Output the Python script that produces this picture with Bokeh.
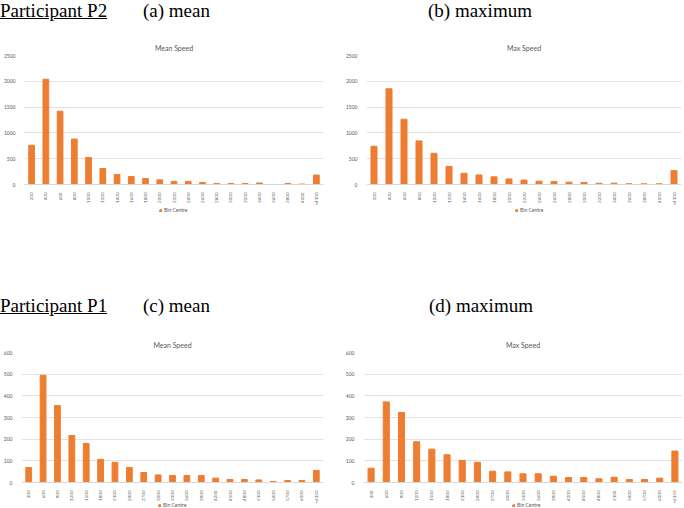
from bokeh.plotting import figure
from bokeh.models import FactorRange, FixedTicker, Legend, LegendItem, Div, Range1d
from bokeh.layouts import column, row
from bokeh.embed import file_html
from bokeh.resources import INLINE
import math

# ---------------- data ----------------
labels_p2 = ["200", "400", "600", "800", "1000", "1200", "1400", "1600", "1800", "2000",
             "2200", "2400", "2600", "2800", "3000", "3200", "3400", "3600", "3800", "4000", ">4100"]
labels_p1 = ["300", "600", "900", "1200", "1500", "1800", "2100", "2400", "2700", "3000",
             "3300", "3600", "3900", "4200", "4500", "4800", "5100", "5400", "5700", "6000", ">6150"]

p2_mean = [760, 2040, 1420, 880, 525, 310, 195, 155, 115, 90, 60, 60, 40, 20, 20, 20, 30, 0, 20, 8, 182]
p2_max = [740, 1855, 1265, 845, 605, 350, 218, 185, 148, 108, 85, 65, 58, 45, 38, 25, 25, 14, 13, 13, 268]
p1_mean = [69, 495, 355, 217, 180, 107, 93, 69, 46, 35, 32, 32, 32, 20, 14, 14, 12, 5, 9, 9, 56]
p1_max = [66, 372, 323, 188, 154, 128, 102, 93, 52, 49, 40, 40, 29, 23, 23, 17, 24, 14, 14, 20, 145]

ticks_p2 = [0, 500, 1000, 1500, 2000, 2500]
ticks_p1 = [0, 100, 200, 300, 400, 500, 600]

series_name = "Bin Centre"
BAR = "#ED7D31"
GRID = "#D9D9D9"
TXT = "#595959"
FONT = "Lato"


def make_chart(title, labels, values, ticks, width, height, left, right, top, bottom,
               value_px, below_zero_px, legend_x, legend_y):
    # value_px: pixel height of the 0..max value span; the frame continues below zero
    # so that the category labels and the legend sit inside it
    ymax = ticks[-1]
    ymin = -below_zero_px / value_px * ymax
    p = figure(x_range=FactorRange(factors=labels, range_padding=0),
               y_range=Range1d(ymin, ymax),
               width=width, height=height,
               output_backend="svg", toolbar_location=None,
               min_border_left=left, min_border_right=right,
               min_border_top=top, min_border_bottom=bottom,
               title=title)
    r = p.vbar(x=labels, top=values, bottom=0, width=0.4, color=BAR)
    p.outline_line_color = None
    p.background_fill_color = "white"
    p.border_fill_color = "white"

    p.title.align = "center"
    p.title.text_font = FONT
    p.title.text_font_size = "7px"
    p.title.text_font_style = "normal"
    p.title.text_color = TXT
    p.title.standoff = 7

    p.xgrid.grid_line_color = None
    p.ygrid.grid_line_color = GRID
    p.ygrid.grid_line_width = 0.75

    p.yaxis.ticker = FixedTicker(ticks=ticks)
    p.yaxis.axis_line_color = None
    p.yaxis.major_tick_line_color = None
    p.yaxis.minor_tick_line_color = None
    p.yaxis.major_label_text_font = FONT
    p.yaxis.major_label_text_font_size = "5px"
    p.yaxis.major_label_text_color = TXT
    p.yaxis.major_label_standoff = 3

    p.xaxis.fixed_location = 0
    p.xaxis.axis_line_color = GRID
    p.xaxis.major_tick_line_color = None
    p.xaxis.minor_tick_line_color = None
    p.xaxis.major_label_orientation = math.pi / 2
    p.xaxis.major_label_text_font = FONT
    p.xaxis.major_label_text_font_size = "4.5px"
    p.xaxis.major_label_text_color = TXT
    p.xaxis.major_label_standoff = 2

    legend = Legend(items=[LegendItem(label=series_name, renderers=[r])],
                    orientation="horizontal",
                    location=(legend_x, legend_y),
                    label_text_font=FONT, label_text_font_size="5px",
                    label_text_color=TXT, glyph_width=3, glyph_height=3,
                    label_standoff=2, padding=1, spacing=0, margin=0,
                    label_height=5, label_width=10,
                    border_line_color=None, background_fill_alpha=0)
    p.add_layout(legend, "center")
    return p


def header(left_text, a_text, b_text, a_x, b_x, top, height):
    base = ("position:absolute;white-space:nowrap;font-family:'Liberation Serif';"
            "font-size:19px;line-height:21px;color:#000;")
    return (f'<div style="position:relative;width:684px;height:{height}px;">'
            f'<span style="{base}left:0px;top:{top}px;text-decoration:underline;">{left_text}</span>'
            f'<span style="{base}left:{a_x}px;top:{top}px;">{a_text}</span>'
            f'<span style="{base}left:{b_x}px;top:{top}px;">{b_text}</span>'
            f'</div>')


top_div = Div(text=header("Participant P2", "(a) mean", "(b) maximum", 143, 428, 0, 28),
              width=684, height=28, margin=0)
bot_div = Div(text=header("Participant P1", "(c) mean", "(d) maximum", 143, 429, 75, 105),
              width=684, height=105, margin=0)

fa = make_chart("Mean Speed", labels_p2, p2_mean, ticks_p2, 342, 192, 17, 19, 27, 4,
                129, 32, 135, 3)
fb = make_chart("Max Speed", labels_p2, p2_max, ticks_p2, 342, 192, 13, 3, 27, 4,
                129, 32, 149, 3)
fc = make_chart("Mean Speed", labels_p1, p1_mean, ticks_p1, 342, 183, 15, 19, 27, 0,
                130, 26, 137, 0)
fd = make_chart("Max Speed", labels_p1, p1_max, ticks_p1, 342, 183, 13, 2, 27, 0,
                130, 26, 149, 0)

layout = column(top_div, row(fa, fb, spacing=0), bot_div, row(fc, fd, spacing=0), spacing=0)

open("out.html", "w").write(file_html(layout, INLINE))
